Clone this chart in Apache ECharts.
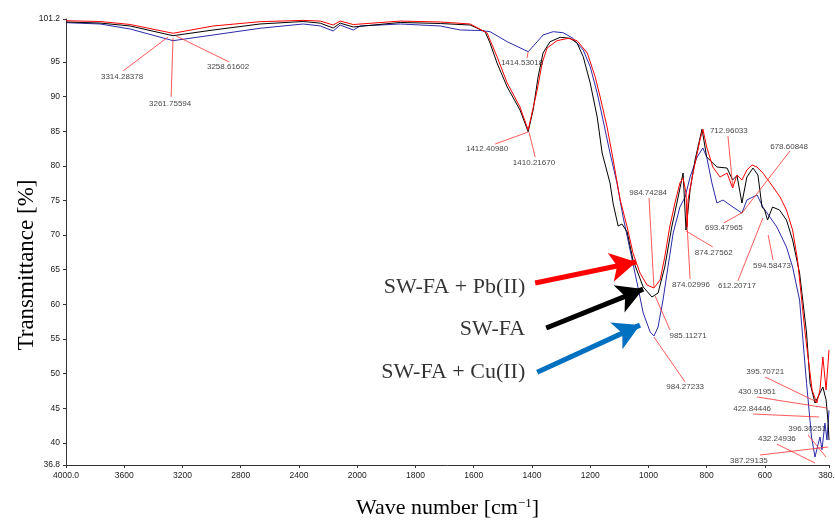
<!DOCTYPE html>
<html><head><meta charset="utf-8">
<script src="https://cdn.jsdelivr.net/npm/echarts@6/dist/echarts.min.js"></script>
<style>html,body{margin:0;padding:0;background:#fff}#c{width:835px;height:523px}</style>
</head><body><div id="c"></div>
<script>
// ---- data (wavenumber cm-1, transmittance %) ----
const swfaW = [4000,3766,3560,3265,2990,2667,2371,2254,2165,2117,2027,1852,1715,1612,1561,1544,1520,1485,1441,1413,1396,1379,1362,1338,1303,1269,1245,1224,1200,1176,1159,1132,1121,1104,1091,1073,1053,1018,988,967,944,920,898,881,871,857,840,816,800,765,730,711,696,679,662,641,624,610,601,591,574,550,526,505,481,457,445,428,411,401,390,383,380];
const swfaT = [100.77,100.62,100.19,98.79,99.61,100.48,100.84,100.6,99.9,100.6,100.05,100.7,100.55,100.33,99.37,97.73,94.85,91.38,88.06,84.93,88.06,92.82,96.29,97.92,98.56,98.41,97.73,95.76,91.96,87.05,81.85,77.52,74.5,71.3,71.6,70.44,66.4,62.5,61.06,61.63,65.39,71.16,75.5,78.96,70.73,76.5,80.84,85.3,81.27,79.83,79.68,77.95,78.6,74.63,78.38,79.68,78.67,74.05,73.62,72.17,74.05,73.62,72.17,69.29,64.52,55.86,48.6,45.75,47.2,48.06,46.2,42.9,40.4];
const pbW = [4000,3766,3560,3265,2990,2667,2371,2254,2165,2117,2027,1852,1715,1612,1554,1520,1485,1441,1413,1382,1365,1348,1314,1276,1245,1210,1183,1166,1142,1121,1097,1073,1053,1029,1005,981,960,944,927,909,892,881,871,867,864,847,823,813,800,779,754,730,711,696,679,662,644,627,607,572,548,526,505,488,462,438,422,411,401,390,380];
const pbT = [100.95,100.84,100.41,99.14,100.19,100.81,101.0,100.9,100.33,100.9,100.4,100.9,100.77,100.48,99.18,95.76,91.96,88.49,85.17,90.95,94.85,97.01,98.07,98.41,98.07,96.29,92.87,89.98,85.6,80.84,75.06,71.16,67.4,64.52,62.79,62.36,63.51,66.83,71.16,74.63,77.52,78.24,76.07,71.16,75.06,78.96,83.73,85.3,82.72,79.83,78.38,78.96,76.8,78.67,77.95,79.4,80.12,79.83,78.96,76.94,75.5,73.62,70.73,66.4,55.86,47.63,45.75,47.63,52.4,47.63,53.4];
const cuW = [4000,3766,3560,3265,2990,2667,2371,2254,2165,2117,2027,1990,1852,1715,1646,1578,1544,1485,1413,1382,1362,1327,1293,1259,1224,1200,1176,1156,1132,1108,1087,1063,1039,1018,994,981,967,950,933,915,892,874,857,833,813,800,782,765,744,710,679,662,627,607,583,559,526,505,481,457,440,428,418,411,404,394,387,380];
const cuT = [100.67,100.48,99.76,98.07,98.89,99.86,100.48,100.2,99.47,100.33,99.61,100.19,100.48,100.19,99.61,99.54,99.37,97.92,96.48,97.92,98.89,99.37,99.22,98.41,96.72,94.31,90.51,86.62,81.85,77.52,72.6,67.84,63.08,58.75,56.0,55.42,56.72,60.62,65.39,70.3,74.05,75.5,78.38,81.27,82.57,81.27,77.52,74.63,75.06,74.05,73.18,75.06,75.79,74.05,72.6,71.16,68.27,65.39,60.62,48.6,40.84,37.95,39.7,40.84,39.0,42.86,40.4,44.7];

const xTickW = [4000,3600,3200,2800,2400,2000,1800,1600,1400,1200,1000,800,600,380];
const yTicks = [36.8,40,45,50,55,60,65,70,75,80,85,90,95,101.2];

// peak annotations: text, peak point [w,T], leader end [w,T], text centre [w,T]
const peakText = ['3314.28378','3261.75594','3258.61602','1414.53018','1412.40980','1410.21670','984.74284','985.11271','984.27233','874.27562','874.02996','712.96033','678.60848','693.47965','594.58473','612.20717','395.70721','430.91951','422.84446','396.30251','432.24936','387.29135'];
const peakAt = [[3299,98.6],[3265,98.46],[3244,98.75],[1413,96.43],[1413,84.88],[1410,84.88],[981,62.36],[977,61.2],[981,55.28],[871,70.59],[867,71.16],[710,76.8],[679,73.18],[675,73.33],[589,70.01],[607,72.46],[421,45.89],[387,45.03],[414,43.73],[390,37.95],[428,37.08],[383,39.4]];
const leadEnd = [[3608,93.7],[3278,89.94],[2880,95.0],[1417,95.57],[1526,83.15],[1389,81.27],[998,75.35],[926,56.3],[874,48.78],[779,68.28],[857,63.65],[727,84.3],[514,82.14],[741,71.74],[572,66.4],[693,63.37],[599,49.5],[627,46.62],[641,44.16],[452,41.13],[559,39.83],[617,38.24]];
const textAt = [[3615,92.8],[3285,88.93],[2887,94.27],[1434,94.85],[1554,82.43],[1393,80.41],[1001,76.07],[864,55.42],[874,48.06],[776,67.41],[854,62.79],[724,85.03],[517,82.72],[741,71.02],[576,65.53],[696,62.64],[599,50.2],[627,47.34],[644,44.88],[455,41.99],[559,40.55],[655,37.37]];

// legend labels and arrows
const legendNames = ['SW-FA + Pb(II)','SW-FA','SW-FA + Cu(II)'];
const legendAt = [[1423,62.5],[1423,56.4],[1423,50.2]];
const arrowFrom = [[1389,63.08],[1351,56.58],[1382,50.2]];
const arrowTo = [[1042,66.11],[1018,62.2],[1029,57.0]];

// piecewise wavenumber scale (instrument doubles the scale below 2000 cm-1)
function tx(w){ return w >= 2000 ? (4000 - w) / 2 : 1000 + (2000 - w); }
function wOf(t){ return t <= 1000 ? 4000 - 2 * t : 2000 - (t - 1000); }

const chart = echarts.init(document.getElementById('c'), null, {renderer:'canvas'});
const pts = (W,T) => W.map((w,i)=>[tx(w),T[i]]);
const arrowColors = ['#ff0000','#000000','#0070c0'];
function arrowML(i){
  return {silent:true, animation:false, symbol:['none','arrow'], symbolSize:[22,26],
    label:{show:false}, lineStyle:{color:arrowColors[i], width:5, type:'solid'},
    emphasis:{disabled:true},
    data:[[{coord:[tx(arrowFrom[i][0]),arrowFrom[i][1]]},{coord:[tx(arrowTo[i][0]),arrowTo[i][1]]}]]};
}
const lineBase = {type:'line', showSymbol:false, symbol:'none', animation:false, silent:true, z:3};

chart.setOption({
  animation:false,
  grid:{left:66, right:6, top:19, bottom:58, outerBoundsMode:'none', containLabel:false},
  xAxis:{type:'value', min:0, max:tx(380),
    name:'Wave number [cm{sup|−1}]', nameLocation:'middle', nameGap:32,
    nameTextStyle:{fontFamily:'Liberation Serif', fontSize:22, color:'#000',
      rich:{sup:{fontFamily:'Liberation Serif', fontSize:13, color:'#000', verticalAlign:'top', padding:[0,0,9,0]}}},
    axisLine:{show:true, lineStyle:{color:'#333', width:1}},
    axisTick:{show:true, length:3, lineStyle:{color:'#333'}, customValues: xTickW.map(tx)},
    axisLabel:{fontFamily:'Liberation Sans', fontSize:8.5, color:'#222', margin:6,
      customValues: xTickW.map(tx),
      formatter:v=>{const w=Math.round(wOf(v)); return (w===4000||w===380)? w.toFixed(1): String(w);}},
    splitLine:{show:false}},
  yAxis:{type:'value', min:36.8, max:101.2,
    name:'Transmittance [%]', nameLocation:'middle', nameGap:28, nameRotate:90, nameMoveOverlap:false,
    nameTextStyle:{fontFamily:'Liberation Serif', fontSize:23, color:'#000', padding:[0,46,0,0]},
    axisLine:{show:true, lineStyle:{color:'#333', width:1}},
    axisTick:{show:true, length:3, lineStyle:{color:'#333'}, customValues:yTicks},
    axisLabel:{fontFamily:'Liberation Sans', fontSize:8.5, color:'#222', margin:6,
      customValues:yTicks, formatter:v=> Number.isInteger(v)? String(v): v.toFixed(1)},
    splitLine:{show:false}},
  series:[
    Object.assign({}, lineBase, {name:'SW-FA + Cu(II)', data:pts(cuW,cuT), lineStyle:{color:'#2a2aa8', width:1}, markLine:arrowML(2)}),
    Object.assign({}, lineBase, {name:'SW-FA', data:pts(swfaW,swfaT), lineStyle:{color:'#000000', width:1}, markLine:arrowML(1)}),
    Object.assign({}, lineBase, {name:'SW-FA + Pb(II)', data:pts(pbW,pbT), lineStyle:{color:'#ff0000', width:1}, markLine:arrowML(0)}),
    {type:'scatter', name:'peaks', symbolSize:0, silent:true, animation:false, z:5,
      data: peakText.map((s,i)=>({value:[tx(textAt[i][0]), textAt[i][1]], name:s})),
      label:{show:true, position:'inside', formatter:p=>p.name, fontFamily:'Liberation Sans', fontSize:8, color:'#111'},
      markLine:{silent:true, animation:false, symbol:['none','none'], label:{show:false}, emphasis:{disabled:true},
        lineStyle:{color:'#ff3030', width:0.8, type:'solid'},
        data: peakAt.map((p,i)=>[{coord:[tx(p[0]),p[1]]},{coord:[tx(leadEnd[i][0]),leadEnd[i][1]]}])}},
    {type:'scatter', name:'legendText', symbolSize:0, silent:true, animation:false, z:6,
      data: legendNames.map((s,i)=>({value:[tx(legendAt[i][0]), legendAt[i][1]], name:s})),
      label:{show:true, position:'left', distance:0, formatter:p=>p.name, fontFamily:'Liberation Serif', fontSize:22, color:'#000'}}
  ]
});
</script></body></html>
